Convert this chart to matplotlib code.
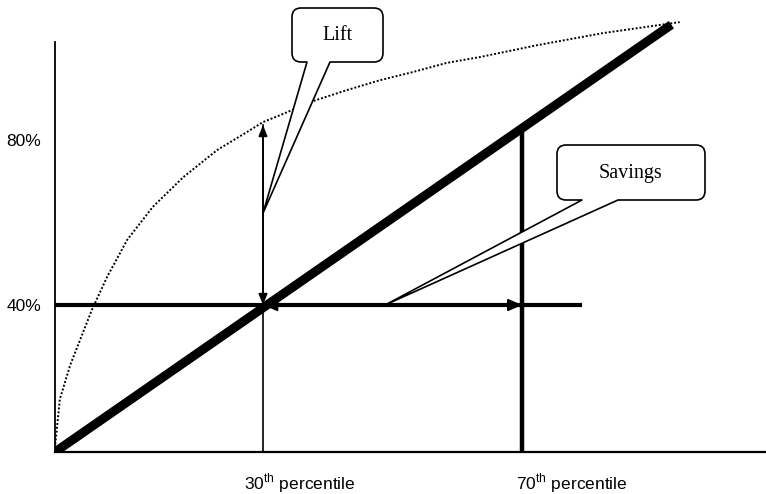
"""Lift / savings chart: cumulative gains curve vs. random baseline."""

import matplotlib

matplotlib.use("Agg")
import matplotlib.pyplot as plt
from matplotlib.path import Path
from matplotlib.patches import PathPatch

plt.rcParams["font.family"] = ["Liberation Sans", "DejaVu Sans"]
plt.rcParams["mathtext.fontset"] = "custom"
plt.rcParams["mathtext.rm"] = "Liberation Sans"

# random-selection baseline (thick diagonal)
diag_x = [0, 88.9]
diag_y = [0, 116.3]

# model gains curve (dotted)
gains_x = [0, 0.0, 0.7, 2.2, 5.3, 7.5, 10.4, 14.1, 18.5, 23.4, 27.7, 30.0,
           32.5, 37.2, 42.1, 46.9, 51.6, 56.5, 61.3, 69.5, 79.0, 90.1]
gains_y = [0, 1.4, 14.4, 23.7, 38.6, 47.6, 57.7, 66.7, 74.8, 82.2, 87.1, 89.8,
           91.7, 95.5, 98.5, 101.2, 103.4, 105.9, 107.5, 110.7, 114.0, 117.0]

# cut-offs
cut_x = [30, 67.4]
cut_top = [89.0, 88.2]
cut_labels = ["30$^{\\mathrm{th}}$ percentile", "70$^{\\mathrm{th}}$ percentile"]
level_y = 40
level_end = 75.7
y_ticks = [40, 84.9]
y_labels = ["40%", "80%"]

W, H = 766, 494
fig = plt.figure(figsize=(W / 100, H / 100), dpi=100)
ax = fig.add_axes([55 / W, 42 / H, 711 / W, 442 / H])
ax.set_xlim(0, 102.55)
ax.set_ylim(0, 120.3)

ax.plot(gains_x, gains_y, color="black", lw=1.4, ls=(0, (1, 1)), zorder=2)
ax.plot(diag_x, diag_y, color="black", lw=6.5, solid_capstyle="butt", zorder=4)
ax.plot([0, level_end], [level_y, level_y], color="black", lw=3, zorder=3)
ax.plot([cut_x[0]] * 2, [0, cut_top[0]], color="black", lw=1.2, zorder=3)
ax.plot([cut_x[1]] * 2, [0, cut_top[1]], color="black", lw=3.2, zorder=3)

# lift arrow (vertical) and savings arrow (horizontal)
ax.annotate("", xy=(cut_x[0], cut_top[0]), xytext=(cut_x[0], level_y),
            arrowprops=dict(arrowstyle="<|-|>,head_length=0.55,head_width=0.22",
                            color="black", lw=1.2, shrinkA=0, shrinkB=0,
                            mutation_scale=12), zorder=5)
ax.annotate("", xy=(cut_x[1], level_y), xytext=(cut_x[0], level_y),
            arrowprops=dict(arrowstyle="<|-|>,head_length=0.7,head_width=0.3",
                            color="black", lw=1.5, shrinkA=0, shrinkB=0,
                            mutation_scale=12), zorder=5)

for side in ("top", "right"):
    ax.spines[side].set_visible(False)
ax.spines["left"].set_bounds(0, 111.6)
ax.spines["left"].set_linewidth(1.3)
ax.spines["bottom"].set_linewidth(1.6)
ax.set_xticks([])
ax.set_yticks(y_ticks)
ax.set_yticklabels(y_labels, fontsize=12.5)
ax.tick_params(axis="y", length=0, pad=10)

label_dx = [37, 49]  # label centre offset from its line, in pixels
for x, lab, dx in zip(cut_x, cut_labels, label_dx):
    ax.annotate(lab, xy=(x, 0), xycoords=("data", "axes fraction"),
                xytext=(dx * 0.72, -31 * 0.72), textcoords="offset points",
                ha="center", va="center", fontsize=12.5)

# callout balloons, drawn in pixel space (origin top-left)
ov = fig.add_axes([0, 0, 1, 1], zorder=10)
ov.set_xlim(0, W)
ov.set_ylim(H, 0)
ov.axis("off")
ov.patch.set_alpha(0)


def to_px(x, y):
    disp = ax.transData.transform((x, y))
    return tuple(ov.transData.inverted().transform(disp))


def callout(x0, y0, x1, y1, ta, tb, tip, text, r=9):
    M, L, C = Path.MOVETO, Path.LINETO, Path.CURVE3
    verts = [(x0 + r, y0), (x1 - r, y0), (x1, y0), (x1, y0 + r),
             (x1, y1 - r), (x1, y1), (x1 - r, y1), (tb, y1), tip, (ta, y1),
             (x0 + r, y1), (x0, y1), (x0, y1 - r), (x0, y0 + r), (x0, y0),
             (x0 + r, y0), (x0 + r, y0)]
    codes = [M, L, C, C, L, C, C, L, L, L, L, C, C, L, C, C, Path.CLOSEPOLY]
    ov.add_patch(PathPatch(Path(verts, codes), facecolor="white",
                           edgecolor="black", lw=1.2, joinstyle="round"))
    ov.text((x0 + x1) / 2, (y0 + y1) / 2 + 1, text, ha="center", va="center",
            fontsize=14.5, family="Liberation Serif")


callout(292, 8, 383, 62, 307, 330, to_px(cut_x[0], 65), "Lift")
callout(557, 145, 705, 200, 582, 618, to_px(47.6, level_y), "Savings")

fig.savefig("out.png", dpi=100)
